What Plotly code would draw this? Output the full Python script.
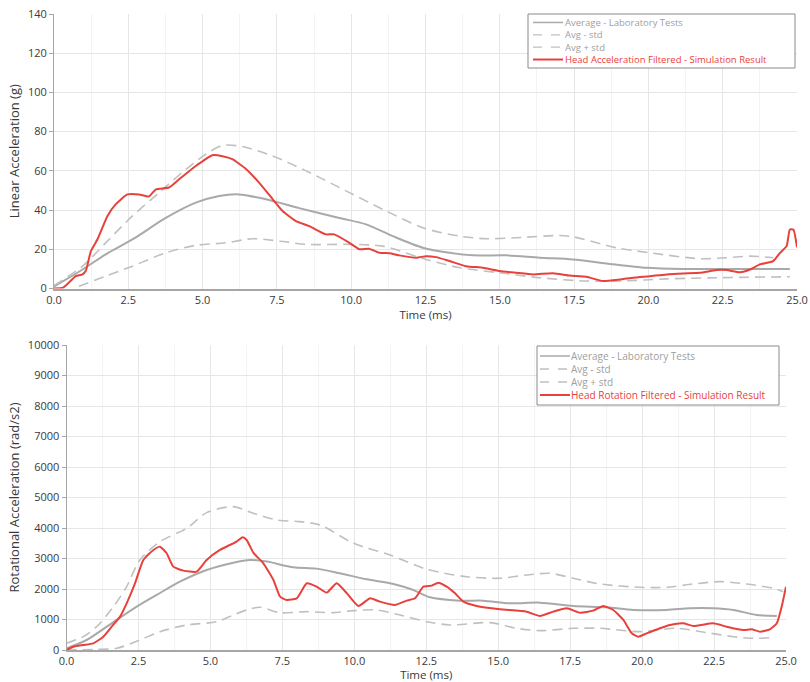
import plotly.graph_objects as go

# ---------------- Data: Linear acceleration (top) ----------------
lin_avg_t = [0, 0.96, 1.74, 2.64, 3.76, 4.77, 5.56, 6.23, 7.13, 8.25, 9.6, 10.5, 11.4, 12.41,
             13.31, 14.1, 15.22, 16.34, 17.46, 18.59, 19.94, 21.17, 22.85, 24.76]
lin_avg_v = [1, 9.7, 17.4, 25, 36, 43.8, 47.2, 48, 45.5, 41, 36, 32.7, 26.7, 20.8,
             18.2, 16.9, 16.9, 15.7, 14.8, 12.8, 10.6, 10, 10, 10]

lin_lo_t = [0.84, 1.74, 2.64, 3.76, 4.77, 5.78, 6.68, 7.58, 8.48, 9.94, 11.06, 12.52, 13.65,
            15.0, 16.34, 17.91, 19.04, 20.61, 22.3, 24.76]
lin_lo_v = [1.2, 6.3, 11.4, 18.2, 22, 23.3, 25.4, 24.2, 22.5, 22.5, 21.6, 14.8, 10.6,
            8, 5.5, 3.8, 3.8, 4.9, 5.5, 6]

lin_hi_t = [0, 0.96, 1.74, 2.64, 3.54, 4.44, 5.11, 5.67, 6.34, 7.36, 8.48, 9.94, 11.06, 12.41,
            13.65, 14.54, 15.56, 17.01, 17.46, 18.92, 20.05, 21.73, 22.63, 23.42, 24.2]
lin_hi_v = [1.5, 11.4, 23.3, 37, 48.9, 60.8, 68.5, 73, 72.4, 67.6, 60, 48.9, 40.4, 31,
            26.7, 25.4, 25.9, 27, 26.4, 20.8, 18.2, 15.2, 15.7, 16.5, 15.7]

lin_sim_t = [0, 0.3, 0.5, 0.73, 0.96, 1.07, 1.24, 1.46, 1.80, 2.08, 2.47, 2.86, 3.2, 3.43, 3.87,
             4.21, 4.77, 5.33, 5.67, 6.0, 6.46, 6.9, 7.36, 7.69, 8.14, 8.59, 9.15, 9.43, 9.94,
             10.28, 10.6, 10.95, 11.29, 11.62, 12.19, 12.52, 12.86, 13.31, 13.87, 14.43, 15.0,
             15.56, 16.12, 16.79, 17.35, 17.91, 18.47, 19.04, 19.49, 20.05, 20.61, 21.17, 21.73,
             22.3, 22.63, 23.08, 23.42, 23.75, 24.2, 24.43, 24.65, 24.76, 24.88, 25.0]
lin_sim_v = [0, 0.4, 3, 6.3, 7.2, 9, 19, 25, 37, 43, 48, 48, 47, 50.6, 51.5,
             55.7, 62.5, 68, 67.5, 66, 61, 54, 45.5, 39.5, 34.4, 31.8, 27.6, 27.6, 23.3,
             20, 20.3, 18.2, 18, 16.9, 15.7, 16.5, 16, 14, 11.4, 10.6, 8.9,
             8, 7.2, 7.8, 6.6, 6, 3.8, 4.6, 5.5, 6.3, 7.2, 7.7, 8,
             9.4, 9.4, 8.3, 9.7, 12.3, 14, 18.2, 21.6, 30.1, 30, 21]

# ---------------- Data: Rotational acceleration (bottom) ----------------
rot_avg_t = [0, 0.7, 1.4, 2.44, 3.13, 3.94, 4.87, 5.8, 6.38, 6.96, 7.88, 8.69, 9.5, 10.43,
             11.36, 12.05, 12.63, 13.67, 14.48, 15.41, 16.45, 17.61, 18.77, 19.7, 20.85,
             21.66, 22.47, 23.17, 23.98, 24.68]
rot_avg_v = [55, 328, 765, 1421, 1804, 2241, 2624, 2864, 2952, 2898, 2711, 2668, 2515, 2318,
             2165, 1968, 1728, 1618, 1618, 1531, 1553, 1443, 1400, 1312, 1312,
             1367, 1367, 1312, 1148, 1115]

rot_hi_t = [0, 0.58, 1.05, 1.63, 2.09, 2.55, 3.25, 4.18, 4.87, 5.8, 6.49, 7.3, 8.11, 8.81,
            9.97, 11.24, 12.52, 13.9, 15.06, 15.99, 16.8, 17.61, 18.54, 19.93, 20.85, 21.78,
            22.71, 23.63, 24.56, 24.9]
rot_hi_v = [219, 437, 765, 1421, 2077, 2952, 3553, 3991, 4504, 4701, 4484, 4264, 4208, 4100,
            3500, 3116, 2647, 2404, 2352, 2460, 2515, 2352, 2165, 2056, 2056, 2165,
            2241, 2165, 2023, 1913]

rot_lo_t = [0, 1.0, 1.74, 2.55, 3.25, 4.18, 5.22, 5.8, 6.26, 6.72, 7.42, 8.35, 9.27, 9.97,
            10.78, 11.59, 12.52, 13.33, 14.72, 15.64, 16.45, 17.61, 18.54, 19.93, 21.2,
            22.24, 23.17, 23.86, 24.62]
rot_lo_v = [0, 20, 55, 328, 601, 820, 929, 1148, 1312, 1400, 1224, 1257, 1224, 1290,
            1312, 1148, 929, 820, 897, 711, 634, 711, 711, 601, 711,
            569, 437, 383, 416]

rot_sim_t = [0, 0.24, 0.58, 0.93, 1.28, 1.57, 1.86, 2.09, 2.38, 2.67, 3.02, 3.25, 3.48, 3.71,
             4.06, 4.52, 4.87, 5.33, 5.68, 5.91, 6.12, 6.26, 6.49, 6.84, 7.19, 7.42, 7.65,
             8.0, 8.35, 8.69, 9.04, 9.39, 9.74, 10.14, 10.55, 10.89, 11.41, 11.82, 12.11,
             12.4, 12.69, 12.92, 13.21, 13.5, 13.79, 14.25, 15.06, 15.99, 16.45, 16.91,
             17.38, 17.84, 18.3, 18.65, 19.0, 19.35, 19.64, 19.87, 20.16, 20.62, 20.97,
             21.43, 21.78, 22.47, 22.94, 23.52, 23.8, 24.1, 24.44, 24.68, 24.85, 25.0]
rot_sim_v = [0, 108, 164, 219, 437, 765, 1093, 1531, 2187, 2952, 3280, 3389, 3171, 2733,
             2602, 2569, 2952, 3280, 3444, 3553, 3696, 3608, 3192, 2843, 2296, 1749, 1640,
             1695, 2187, 2077, 1881, 2187, 1859, 1443, 1695, 1585, 1476, 1618, 1695,
             2077, 2110, 2209, 2077, 1859, 1585, 1443, 1334, 1257, 1115, 1257,
             1367, 1224, 1290, 1443, 1312, 984, 547, 437, 547, 711, 820,
             875, 787, 875, 765, 656, 678, 601, 678, 875, 1421, 2077]

x_ticks = [0, 2.5, 5, 7.5, 10, 12.5, 15, 17.5, 20, 22.5, 25]
legend_top = ["Average - Laboratory Tests", "Avg - std", "Avg + std",
              "Head Acceleration Filtered - Simulation Result"]
legend_bot = ["Average - Laboratory Tests", "Avg - std", "Avg + std",
              "Head Rotation Filtered - Simulation Result"]

# ---------------- Styles ----------------
RED = "#e8413c"
AVG = "#a9a9a9"
STD = "#c0c0c0"
LEG_TXT = "#a0a0a0"
DASH = "10px,6px"
FONT = "Open Sans"

fig = go.Figure()

def add_set(xa, ya, avg, lo, hi, sim, names):
    fig.add_trace(go.Scatter(x=avg[0], y=avg[1], mode="lines", name=names[0],
                             line=dict(color=AVG, width=2, shape="spline", smoothing=0.8),
                             xaxis=xa, yaxis=ya, showlegend=False))
    fig.add_trace(go.Scatter(x=lo[0], y=lo[1], mode="lines", name=names[1],
                             line=dict(color=STD, width=1.6, dash=DASH, shape="spline", smoothing=0.8),
                             xaxis=xa, yaxis=ya, showlegend=False))
    fig.add_trace(go.Scatter(x=hi[0], y=hi[1], mode="lines", name=names[2],
                             line=dict(color=STD, width=1.6, dash=DASH, shape="spline", smoothing=0.8),
                             xaxis=xa, yaxis=ya, showlegend=False))
    fig.add_trace(go.Scatter(x=sim[0], y=sim[1], mode="lines", name=names[3],
                             line=dict(color=RED, width=2, shape="spline", smoothing=0.5),
                             xaxis=xa, yaxis=ya, showlegend=False))

add_set("x", "y", (lin_avg_t, lin_avg_v), (lin_lo_t, lin_lo_v), (lin_hi_t, lin_hi_v),
        (lin_sim_t, lin_sim_v), legend_top)
add_set("x2", "y2", (rot_avg_t, rot_avg_v), (rot_lo_t, rot_lo_v), (rot_hi_t, rot_hi_v),
        (rot_sim_t, rot_sim_v), legend_bot)

# ---------------- Layout geometry (pixels -> paper) ----------------
ML, MR, MT, MB = 54, 13, 14, 32
W, H = 810, 682
PW, PH = W - ML - MR, H - MT - MB

def px(xp):
    return (xp - ML) / PW

def py(yp):
    return (H - MB - yp) / PH

xcommon = dict(range=[0, 25], tickvals=x_ticks, tickformat=".1f", showline=True,
               linecolor="#a6a6a6", linewidth=2, showgrid=True, gridcolor="#e6e6e6",
               gridwidth=1, zeroline=False, ticks="", automargin=False,
               tickfont=dict(family=FONT, size=11, color="#3a3a3a"),
               minor=dict(dtick=1.25, showgrid=True, gridcolor="#f3f3f3", gridwidth=1),
               title=dict(text="Time (ms)", font=dict(family=FONT, size=11.5, color="#3a3a3a"),
                          standoff=3))
ycommon = dict(showline=True, linecolor="#a6a6a6", linewidth=1, showgrid=True,
               gridcolor="#e6e6e6", gridwidth=1, zeroline=False, ticks="outside",
               ticklen=4, tickcolor="#a6a6a6", tickformat="d", automargin=False,
               tickfont=dict(family=FONT, size=11, color="#3a3a3a"))

fig.update_layout(
    width=W, height=H, autosize=False,
    margin=dict(l=ML, r=MR, t=MT, b=MB, autoexpand=False),
    paper_bgcolor="white", plot_bgcolor="white",
    font=dict(family=FONT, color="#3a3a3a"),
    xaxis=dict(domain=[0, 1], anchor="y", **xcommon),
    yaxis=dict(domain=[py(288.5), 1], anchor="x", range=[0, 140], dtick=20,
               title=dict(text="Linear Acceleration (g)",
                          font=dict(family=FONT, size=13, color="#3a3a3a"), standoff=5),
               **ycommon),
    xaxis2=dict(domain=[px(66.5), px(786)], anchor="y2", **xcommon),
    yaxis2=dict(domain=[0, py(345)], anchor="x2", range=[0, 10000], dtick=1000,
                title=dict(text="Rotational Acceleration (rad/s2)",
                           font=dict(family=FONT, size=13, color="#3a3a3a"), standoff=5),
                **ycommon),
    showlegend=False,
)

# ---------------- Manual legends (one multi-line text block each) ----------------
shapes = []
annotations = []

def add_legend(box, line_x, text_x, labels, fsize):
    x0, y0, x1, y1 = box
    shapes.append(dict(type="rect", xref="paper", yref="paper",
                       x0=px(x0), x1=px(x1), y0=py(y1), y1=py(y0),
                       line=dict(color="#8a8a8a", width=1), fillcolor="white", layer="above"))
    step = fsize * 1.3
    yc = (y0 + y1) / 2
    rows = [yc + (i - 1.5) * step for i in range(4)]
    styles = [(AVG, "solid", 1.5), (STD, "dash", 1.3), (STD, "dash", 1.3), (RED, "solid", 2)]
    for (col, dsh, wd), yy in zip(styles, rows):
        shapes.append(dict(type="line", xref="paper", yref="paper",
                           x0=px(line_x[0]), x1=px(line_x[1]), y0=py(yy), y1=py(yy),
                           line=dict(color=col, width=wd, dash=dsh), layer="above"))
    parts = []
    for i, lab in enumerate(labels):
        col = RED if i == 3 else LEG_TXT
        parts.append('<span style="color:%s">%s</span>' % (col, lab))
    annotations.append(dict(xref="paper", yref="paper", x=px(text_x), y=py(yc),
                            text="<br>".join(parts), showarrow=False, align="left",
                            xanchor="left", yanchor="middle", borderpad=0,
                            font=dict(family=FONT, size=fsize, color=LEG_TXT)))

add_legend((528, 14, 795, 68), (533, 563), 564, legend_top, 9.5)
add_legend((537, 346, 779, 405), (540, 570), 570, legend_bot, 10)

fig.update_layout(shapes=shapes, annotations=annotations)

fig.write_html("out.html", config={"responsive": False, "displayModeBar": False},
               post_script="document.body.style.margin='0';document.body.style.overflow='hidden';")
